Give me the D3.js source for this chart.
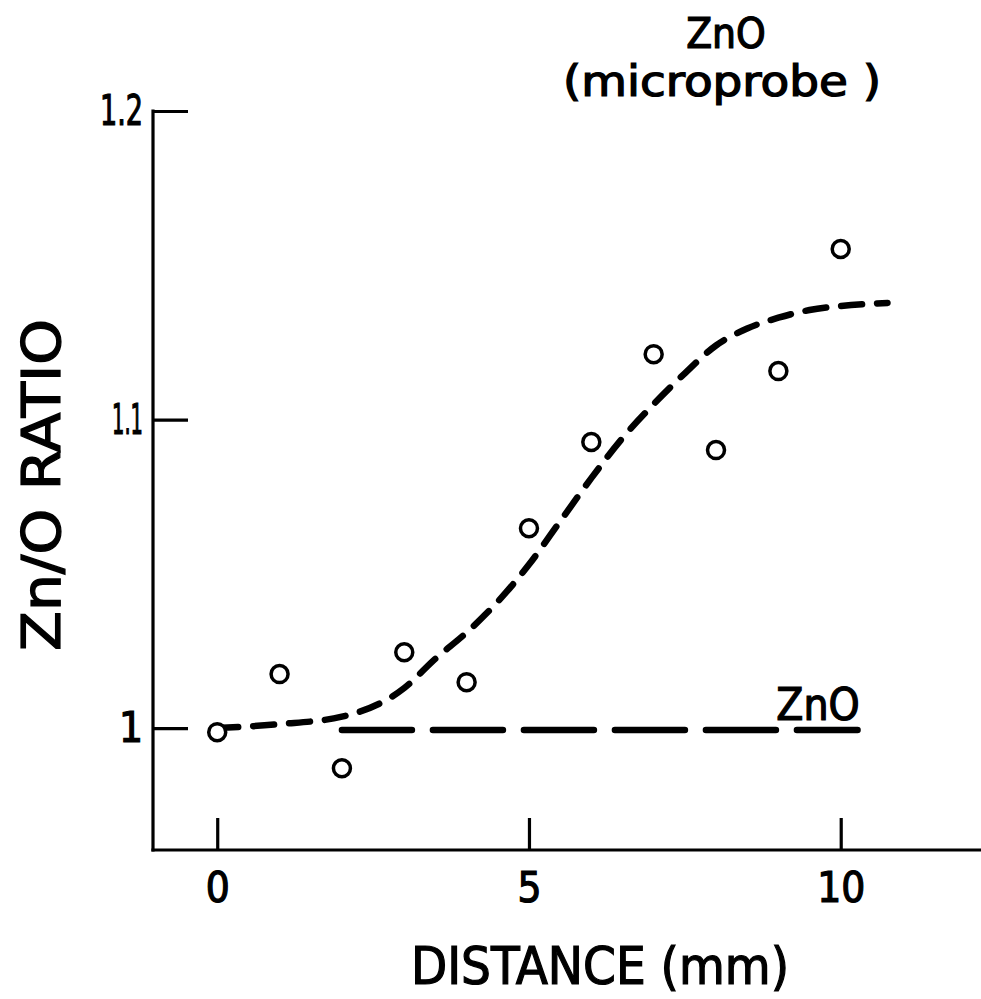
<!DOCTYPE html>
<html><head><meta charset="utf-8">
<script src="https://cdn.jsdelivr.net/npm/d3@7"></script>
<style>
body{margin:0;background:#fff}
text{font-family:"DejaVu Sans Condensed","DejaVu Sans",sans-serif;fill:#000;stroke:#000;stroke-width:1.2px}
</style>
</head><body>
<svg id="chart" width="981" height="999"></svg>
<script>
// measured points
const distance = [0, 1, 2, 3, 4, 5, 6, 7, 8, 9, 10];
const ratio = [0.9987, 1.0175, 0.9870, 1.0246, 1.0149, 1.0648, 1.0927, 1.1212, 1.0901, 1.1157, 1.1553];
// hand-drawn fitted curve (dashed)
const curveX = [0, 1, 2, 3, 3.5, 4, 4.5, 5, 5.5, 6, 6.5, 7, 7.5, 8, 8.5, 9, 9.5, 10, 10.75];
const curveY = [1.000, 1.0013, 1.0037, 1.0130, 1.0225, 1.031, 1.0410, 1.053, 1.067, 1.081, 1.094, 1.105, 1.115, 1.124, 1.1295, 1.133, 1.1355, 1.1368, 1.1378];
// ZnO reference level
const refX = [2, 10.27];
const refY = [0.9994, 0.9994];
const xTicks = [0, 5, 10];
const xTickLabels = ["0", "5", "10"];
const yTicks = [1, 1.1, 1.2];
const yTickLabels = ["1", "1.1", "1.2"];

const svg = d3.select("#chart");
const x = d3.scaleLinear().domain([-1.03, 12.25]).range([153, 981]);
const y = d3.scaleLinear().domain([0.9605, 1.2]).range([850, 111]);

// axes lines
svg.append("line").attr("x1", x(-1.03)).attr("x2", x(-1.03)).attr("y1", y(1.2)).attr("y2", y(0.9605))
  .attr("stroke", "#000").attr("stroke-width", 3.2).attr("stroke-linecap", "square");
svg.append("line").attr("x1", x(-1.03)).attr("x2", x(12.25)).attr("y1", y(0.9605)).attr("y2", y(0.9605))
  .attr("stroke", "#000").attr("stroke-width", 3.2).attr("stroke-linecap", "square");

// y axis ticks (inside)
const yAxis = d3.axisLeft(y).tickValues(yTicks).tickSizeInner(-35).tickSizeOuter(0).tickPadding(10)
  .tickFormat((d, i) => yTickLabels[i]);
const gy = svg.append("g").attr("transform", `translate(${x(-1.03)},0)`).call(yAxis);
gy.select(".domain").remove();
gy.selectAll(".tick line").attr("stroke", "#000").attr("stroke-width", 3.2);
gy.selectAll(".tick text").attr("font-size", 42).attr("fill", "#000")
  .attr("font-family", '"DejaVu Sans Condensed","DejaVu Sans",sans-serif')
  .each(function(d, i){ const t = yTickLabels[i]; if (t.length > 1) d3.select(this).attr("textLength", t === "1.2" ? 43 : 31).attr("lengthAdjust", "spacingAndGlyphs"); });

// x axis ticks (inside)
const xAxis = d3.axisBottom(x).tickValues(xTicks).tickSizeInner(-32).tickSizeOuter(0).tickPadding(22)
  .tickFormat((d, i) => xTickLabels[i]);
const gx = svg.append("g").attr("transform", `translate(0,${y(0.9605)})`).call(xAxis);
gx.select(".domain").remove();
gx.selectAll(".tick line").attr("stroke", "#000").attr("stroke-width", 3.2);
gx.selectAll(".tick text").attr("font-size", 42).attr("fill", "#000")
  .attr("font-family", '"DejaVu Sans Condensed","DejaVu Sans",sans-serif');

// ZnO reference dashed line
svg.append("path").datum(refX.map((v, i) => [v, refY[i]]))
  .attr("d", d3.line().x(d => x(d[0])).y(d => y(d[1])))
  .attr("fill", "none").attr("stroke", "#000").attr("stroke-width", 6.5)
  .attr("stroke-linecap", "round").attr("stroke-dasharray", "70,21");

// fitted dashed curve
svg.append("path").datum(curveX.map((v, i) => [v, curveY[i]]))
  .attr("d", d3.line().curve(d3.curveMonotoneX).x(d => x(d[0])).y(d => y(d[1])))
  .attr("fill", "none").attr("stroke", "#000").attr("stroke-width", 6.5)
  .attr("stroke-linecap", "round").attr("stroke-dasharray", "21,15");

// data circles
svg.selectAll("circle.pt").data(distance).join("circle").attr("class", "pt")
  .attr("cx", d => x(d)).attr("cy", (d, i) => y(ratio[i])).attr("r", 8.5)
  .attr("fill", "#fff").attr("stroke", "#000").attr("stroke-width", 3.5);

// labels
svg.append("text").attr("x", 818).attr("y", 720).attr("text-anchor", "middle")
  .attr("font-size", 44).text("ZnO");
svg.append("text").attr("x", 726).attr("y", 48).attr("text-anchor", "middle")
  .attr("font-size", 42).text("ZnO");
svg.append("text").attr("x", 722).attr("y", 96).attr("text-anchor", "middle")
  .attr("font-size", 42).attr("textLength", 318).attr("lengthAdjust", "spacingAndGlyphs").text("(microprobe )");
svg.append("text").attr("x", 600).attr("y", 984).attr("text-anchor", "middle")
  .attr("font-size", 52).attr("textLength", 378).attr("lengthAdjust", "spacingAndGlyphs").text("DISTANCE (mm)");
svg.append("text").attr("transform", "translate(60,485) rotate(-90)").attr("text-anchor", "middle")
  .attr("font-size", 54).attr("textLength", 332).attr("lengthAdjust", "spacingAndGlyphs").text("Zn/O RATIO");
</script>
</body></html>
